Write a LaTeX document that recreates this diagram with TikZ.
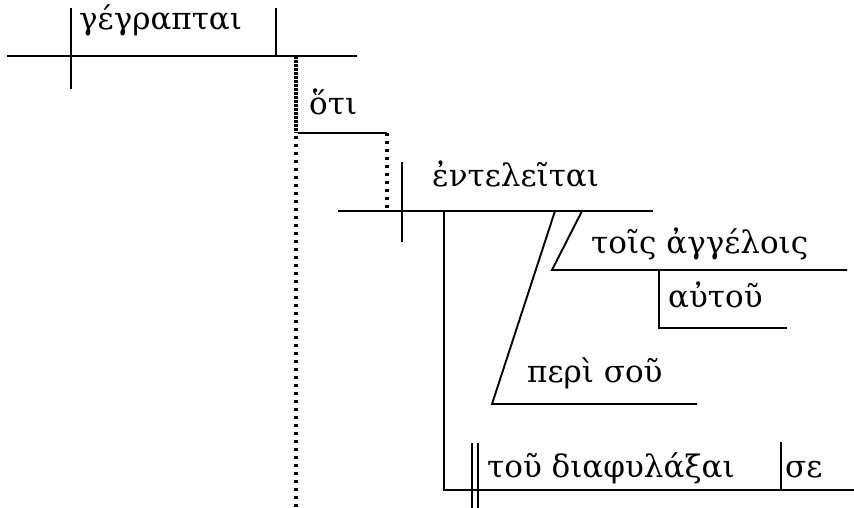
\documentclass[tikz,border=0pt]{standalone}
\usepackage{fontspec}
\setmainfont{DejaVu Serif}
\begin{document}
\begin{tikzpicture}[x=1pt,y=-1pt,
  ln/.style={line width=1.9pt},
  dl/.style={line width=3.4pt,dash pattern=on 3.4pt off 4.6pt},
  wd/.style={anchor=base west,inner sep=0pt,font=\fontsize{31}{34}\selectfont}]
\useasboundingbox (0,0) rectangle (854,508);
% coordinates
\coordinate (t1) at (7,56); \coordinate (t2) at (357,56);
\coordinate (d1a) at (71,8); \coordinate (d1b) at (71,89);
\coordinate (d2a) at (276,8); \coordinate (d2b) at (276,56);
\coordinate (dotA) at (296,56); \coordinate (dotB) at (296,508); \coordinate (dotC) at (296,133);
\coordinate (o1) at (298,133); \coordinate (o2) at (387,133); \coordinate (o3) at (387,210);
\coordinate (e1) at (338,211); \coordinate (e2) at (653,211);
\coordinate (ed1) at (402,162); \coordinate (ed2) at (402,242);
\coordinate (v1) at (444,211); \coordinate (v2) at (444,490); \coordinate (v3) at (854,490);
\coordinate (b1a) at (472,443); \coordinate (b1b) at (472,508);
\coordinate (b2a) at (478,443); \coordinate (b2b) at (478,508);
\coordinate (sd1) at (781,442); \coordinate (sd2) at (781,490);
\coordinate (p1) at (555,211); \coordinate (p2) at (492,404); \coordinate (p3) at (697,404);
\coordinate (a1) at (582,211); \coordinate (a2) at (552,270); \coordinate (a3) at (847,270);
\coordinate (u1) at (659,270); \coordinate (u2) at (659,328); \coordinate (u3) at (787,328);
% lines
\draw[ln] (t1) -- (t2);
\draw[ln] (d1a) -- (d1b);
\draw[ln] (d2a) -- (d2b);
\draw[dl] (dotA) -- (dotB);
\draw[dl,dash phase=4pt] (dotA) -- (dotC);
\draw[ln] (o1) -- (o2);
\draw[dl] (o2) -- (o3);
\draw[ln] (e1) -- (e2);
\draw[ln] (ed1) -- (ed2);
\draw[ln] (v1) -- (v2) -- (v3);
\draw[ln] (b1a) -- (b1b);
\draw[ln] (b2a) -- (b2b);
\draw[ln] (sd1) -- (sd2);
\draw[ln] (p1) -- (p2) -- (p3);
\draw[ln] (a1) -- (a2) -- (a3);
\draw[ln] (u1) -- (u2) -- (u3);
% words
\node[wd] (w1) at (79,30) {γέγραπται};
\node[wd] (w2) at (309,115) {ὅτι};
\node[wd] (w3) at (432,186) {ἐντελεῖται};
\node[wd] (w4) at (591,253) {τοῖς ἀγγέλοις};
\node[wd] (w5) at (668,307) {αὐτοῦ};
\node[wd] (w6) at (527,382) {περὶ σοῦ};
\node[wd] (w7) at (487,477) {τοῦ διαφυλάξαι};
\node[wd] (w8) at (785,477) {σε};
\end{tikzpicture}
\end{document}
